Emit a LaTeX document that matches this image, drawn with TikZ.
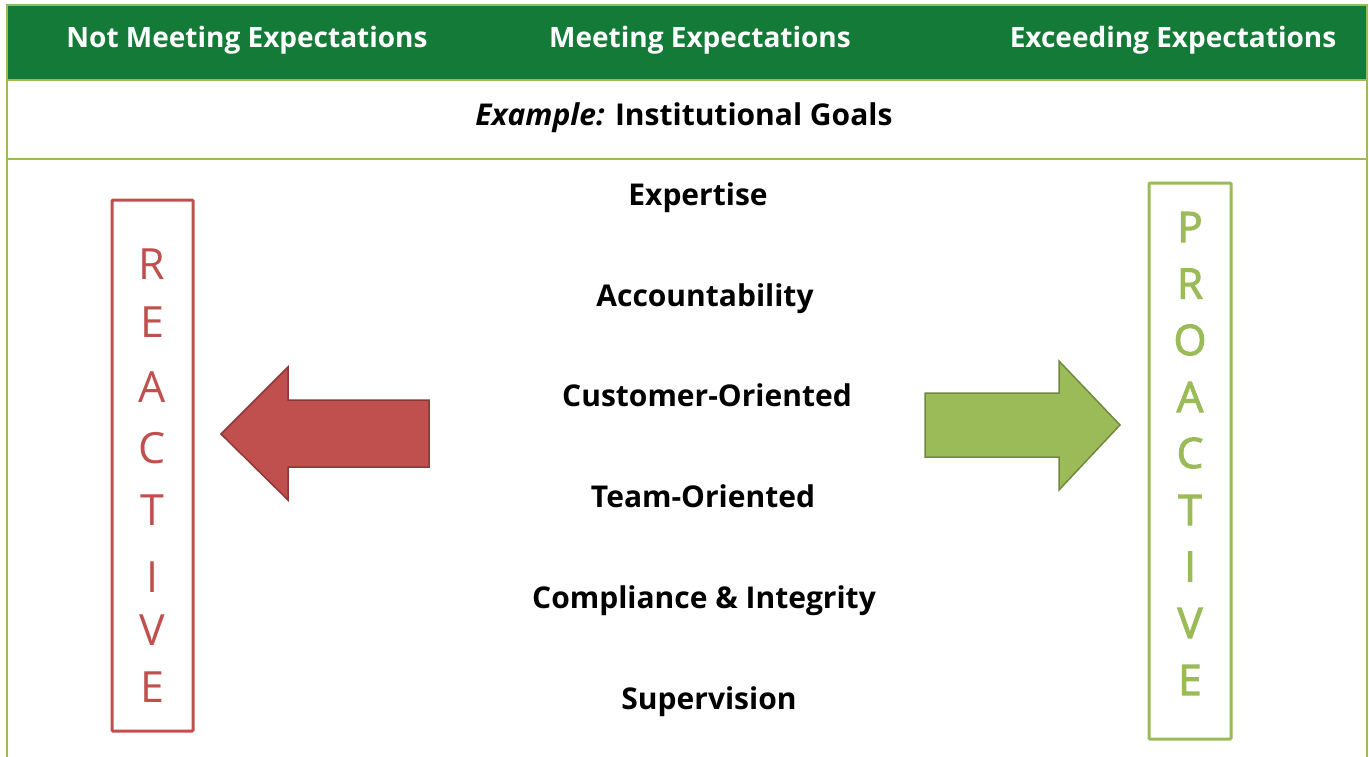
\documentclass[tikz,border=0pt]{standalone}
\usepackage{fontspec}
\setmainfont{Open Sans}
\newfontfamily\gfont[FakeBold=2.5]{Open Sans}
\definecolor{hdr}{HTML}{147A37}
\definecolor{lgreen}{HTML}{9BBB59}
\definecolor{dgreen}{HTML}{71893F}
\definecolor{red1}{HTML}{C0504D}
\definecolor{dred}{HTML}{8C3836}
\begin{document}
\begin{tikzpicture}[x=1pt,y=-1pt,
  hdrtext/.style={anchor=base,inner sep=0pt,text=white,font=\fontsize{28}{30}\selectfont\bfseries},
  item/.style={anchor=base,inner sep=0pt,font=\fontsize{30}{32}\selectfont\bfseries},
  gridline/.style={draw=lgreen,line width=2pt},
  rletter/.style={anchor=base,inner sep=0pt,text=red1,font=\fontsize{43}{45}\selectfont},
  gletter/.style={anchor=base,inner sep=0pt,text=lgreen,font=\gfont\fontsize{42}{44}\selectfont},
  rbox/.style={draw=red1,line width=3pt,rounded corners=1pt},
  gbox/.style={draw=lgreen,line width=3pt,rounded corners=1pt},
  redarrow/.style={fill=red1,draw=dred,line width=1.5pt,line join=miter},
  greenarrow/.style={fill=lgreen,draw=dgreen,line width=1.5pt,line join=miter}]
\useasboundingbox (0,0) rectangle (1369,756);
% table
\fill[hdr] (7,5) rectangle (1367,80);
\draw[gridline] (7,760) -- (7,5) -- (1367,5) -- (1367,760);
\draw[gridline] (7,80) -- (1367,80);
\draw[gridline] (7,159) -- (1367,159);
% header texts
\node[hdrtext] (h1) at (247,47) {Not Meeting Expectations};
\node[hdrtext] (h2) at (700,47) {Meeting Expectations};
\node[hdrtext] (h3) at (1173,47) {Exceeding Expectations};
\node[item] (ex) at (684,125) {\itshape Example:\upshape{} Institutional Goals};
% items
\node[item] (i1) at (698,205) {Expertise};
\node[item] (i2) at (705,306) {Accountability};
\node[item] (i3) at (707,406) {Customer-Oriented};
\node[item] (i4) at (703,507) {Team-Oriented};
\node[item] (i5) at (704,608) {Compliance \& Integrity};
\node[item] (i6) at (709,709) {Supervision};
% reactive box
\draw[rbox] (112,200) rectangle (193,731);
\foreach \l/\y [count=\k] in {R/279,E/337,A/402,C/463,T/525,I/592,V/645,E/702}
  \node[rletter] (r\k) at (152,\y) {\l};
% proactive box
\draw[gbox] (1149,183) rectangle (1231,739);
\foreach \l/\y [count=\k] in {P/242,R/298.6,O/355,A/412,C/468,T/525,I/581.6,V/638,E/695}
  \node[gletter] (p\k) at (1190,\y) {\l};
% arrows
\draw[redarrow] (221,434) -- (288,367) -- (288,400) -- (429,400) -- (429,467) -- (288,467) -- (288,500) -- cycle;
\draw[greenarrow] (1120,425) -- (1059,361) -- (1059,393) -- (925,393) -- (925,457) -- (1059,457) -- (1059,490) -- cycle;
\end{tikzpicture}
\end{document}
